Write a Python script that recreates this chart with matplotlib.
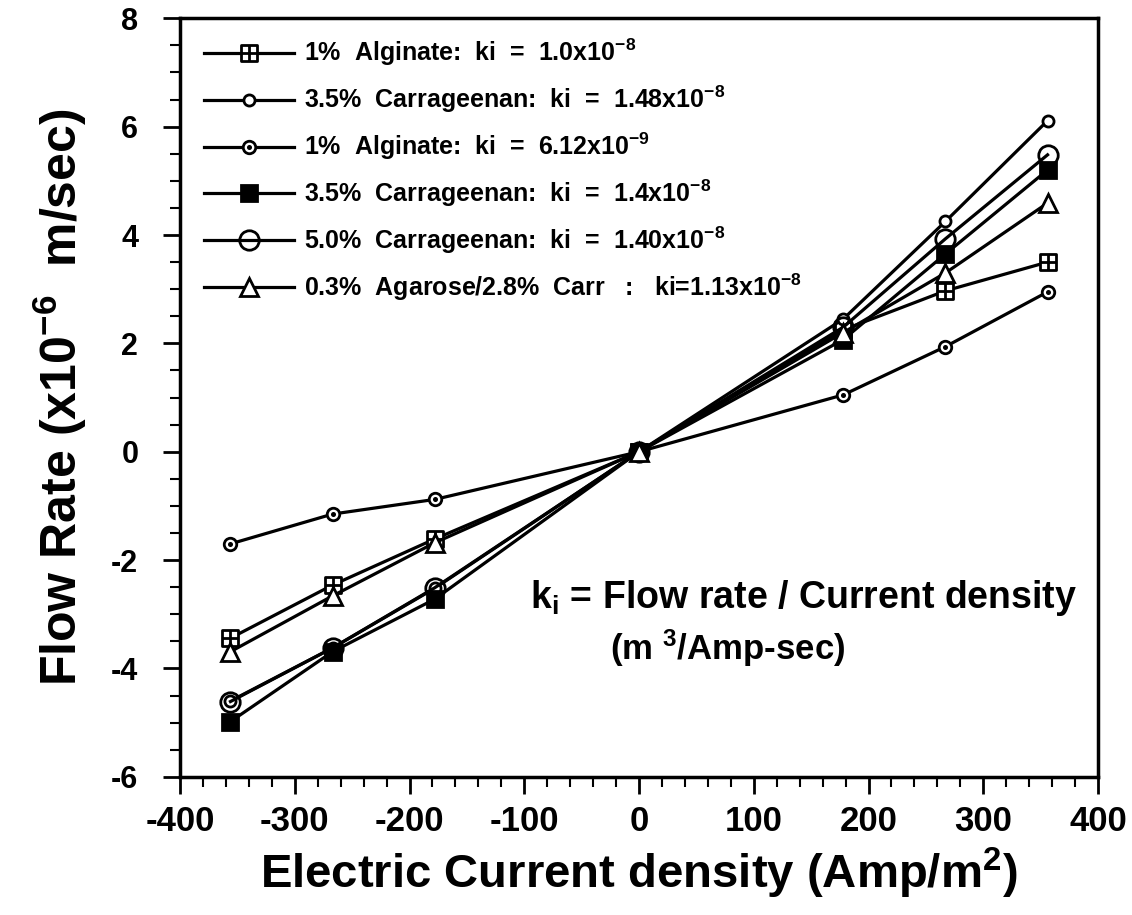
import matplotlib
matplotlib.use("Agg")
import matplotlib.pyplot as plt
from matplotlib.path import Path
from matplotlib.ticker import MultipleLocator

plt.rcParams['font.family'] = ['Liberation Sans', 'DejaVu Sans']
plt.rcParams['font.weight'] = 'bold'
plt.rcParams['axes.labelweight'] = 'bold'
plt.rcParams['axes.unicode_minus'] = False
plt.rcParams['mathtext.fontset'] = 'custom'
plt.rcParams['mathtext.rm'] = 'Liberation Sans:bold'
plt.rcParams['mathtext.it'] = 'Liberation Sans:bold'
plt.rcParams['mathtext.bf'] = 'Liberation Sans:bold'
plt.rcParams['mathtext.default'] = 'rm'

# current density (Amp/m^2)
current = [-356, -267, -178, 0, 178, 267, 356]

# flow rate (x1e-6 m/sec)
alginate_1 = [-3.44, -2.46, -1.61, 0, 2.25, 2.97, 3.50]
carr35_a = [-4.60, -3.62, -2.52, 0, 2.45, 4.25, 6.11]
alginate_2 = [-1.70, -1.15, -0.88, 0, 1.05, 1.94, 2.95]
carr35_b = [-4.98, -3.69, -2.72, 0, 2.07, 3.65, 5.20]
carr50 = [-4.61, -3.62, -2.51, 0, 2.30, 3.93, 5.48]
agarose = [-3.69, -2.66, -1.68, 0, 2.20, 3.30, 4.59]

labels = [
    r"1%  Alginate:  ki  =  1.0x10$^{-8}$",
    r"3.5%  Carrageenan:  ki  =  1.48x10$^{-8}$",
    r"1%  Alginate:  ki  =  6.12x10$^{-9}$",
    r"3.5%  Carrageenan:  ki  =  1.4x10$^{-8}$",
    r"5.0%  Carrageenan:  ki  =  1.40x10$^{-8}$",
    r"0.3%  Agarose/2.8%  Carr   :   ki=1.13x10$^{-8}$",
]

# square with a cross inside
boxplus = Path([(-1, -1), (1, -1), (1, 1), (-1, 1), (-1, -1),
                (0, -1), (0, 1), (-1, 0), (1, 0)],
               [Path.MOVETO, Path.LINETO, Path.LINETO, Path.LINETO, Path.CLOSEPOLY,
                Path.MOVETO, Path.LINETO, Path.MOVETO, Path.LINETO])
# circle with a dot in the middle
dotcircle = Path.make_compound_path(Path.unit_circle(), Path.circle(radius=0.18))

fig = plt.figure(figsize=(11.32, 9.15), dpi=100)
ax = fig.add_axes([0.159, 0.151, 0.811, 0.829])

kw = dict(color="black", lw=2.3, markeredgecolor="black", markeredgewidth=2.0)
ax.plot(current, alginate_1, marker=boxplus, ms=12, mfc="white", label=labels[0], **kw)
ax.plot(current, carr35_a, marker="o", ms=8, mfc="white", label=labels[1], **kw)
ax.plot(current, alginate_2, marker=dotcircle, ms=9, mfc="white", label=labels[2], **kw)
ax.plot(current, carr35_b, marker="s", ms=12, mfc="black", label=labels[3], **kw)
ax.plot(current, carr50, marker="o", ms=14, mfc="none", label=labels[4], **kw)
ax.plot(current, agarose, marker="^", ms=13, mfc="white", label=labels[5], **kw)

ax.set_xlim(-400, 400)
ax.set_ylim(-6, 8)
ax.xaxis.set_major_locator(MultipleLocator(100))
ax.xaxis.set_minor_locator(MultipleLocator(20))
ax.yaxis.set_major_locator(MultipleLocator(2))
ax.yaxis.set_minor_locator(MultipleLocator(0.5))
ax.tick_params(which="major", direction="out", length=12, width=2)
ax.tick_params(which="minor", direction="out", length=7, width=1.5)
ax.tick_params(axis="x", labelsize=25, pad=8)
ax.tick_params(axis="y", labelsize=22, pad=18)
for sp in ax.spines.values():
    sp.set_linewidth(2.5)

ax.set_xlabel(r"Electric Current density (Amp/m$^{2}$)", fontsize=34, labelpad=6)
ax.set_ylabel(r"Flow Rate (x10$^{-6}$  m/sec)", fontsize=36, labelpad=16)

ax.text(-95, -2.7, r"k$_{i}$ = Flow rate / Current density", fontsize=27, va="center")
ax.text(-25, -3.62, r"(m $^{3}$/Amp-sec)", fontsize=25, va="center")

ax.legend(loc="upper left", bbox_to_anchor=(0.01, 0.995), frameon=False, fontsize=18,
          handlelength=3.6, handletextpad=0.4, labelspacing=0.62, borderaxespad=0.2)

fig.savefig("out.png", dpi=100)
